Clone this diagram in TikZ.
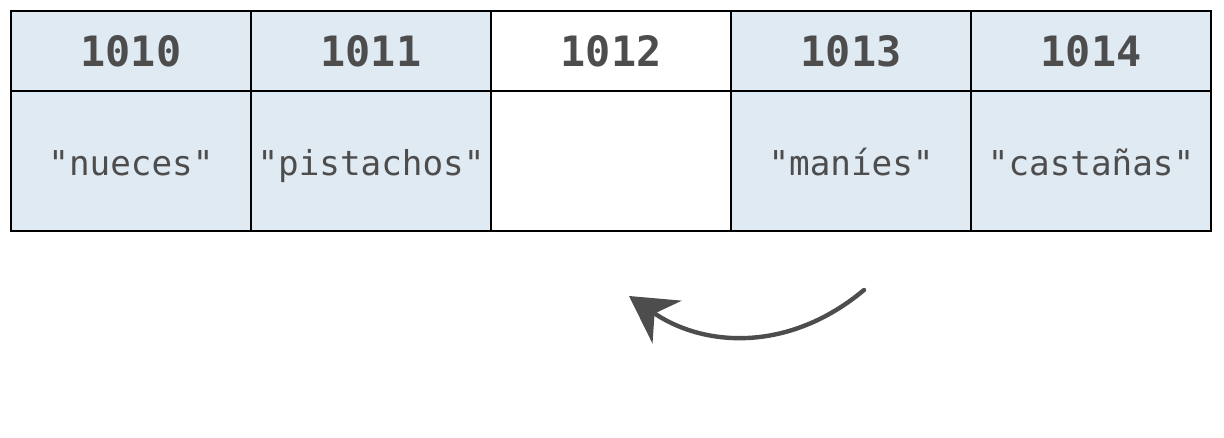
\documentclass[tikz,border=0pt]{standalone}
\usepackage{fontspec}
\setmonofont{DejaVu Sans Mono}
\usepackage{tikz}
\usetikzlibrary{arrows.meta,calc}
\usepackage{xcolor}
\definecolor{cellblue}{HTML}{E0EAF3}
\definecolor{ink}{HTML}{4D4D4D}

\begin{document}
\begin{tikzpicture}[x=0.02cm,y=-0.02cm,
  cell/.style={draw=black,line width=1.1pt,rectangle,minimum width=4.8cm,inner sep=0pt,outer sep=0pt,text=ink,font=\ttfamily},
  head/.style={cell,minimum height=1.6cm,font=\ttfamily\bfseries\fontsize{23.8}{28}\selectfont},
  val/.style={cell,minimum height=2.8cm,text height=20pt,text depth=4pt,font=\ttfamily\fontsize{19.5}{23}\selectfont}]
\useasboundingbox (0,0) rectangle (1224,438);
\node[head,fill=cellblue] (A) at (131,51) {1010};
\node[head,fill=cellblue] (B) at (371,51) {1011};
\node[head,fill=white] (C) at (611,51) {1012};
\node[head,fill=cellblue] (D) at (851,51) {1013};
\node[head,fill=cellblue] (E) at (1091,51) {1014};
\node[val,fill=cellblue] (A') at (131,161) {"nueces"};
\node[val,fill=cellblue] (B') at (371,161) {"pistachos"};
\node[val,fill=white] (C') at (611,161) {};
\node[val,fill=cellblue] (D') at (851,161) {"maníes"};
\node[val,fill=cellblue] (E') at (1091,161) {"castañas"};
\coordinate (S) at (864,290);
\coordinate (T) at (629,296);
\draw[ink,line width=2.5pt,line cap=round,-{Stealth[length=0.92cm,width=1.03cm,inset=0.3cm]}]
(S) .. controls (790,352) and (705,348) .. (T);
\end{tikzpicture}
\end{document}
